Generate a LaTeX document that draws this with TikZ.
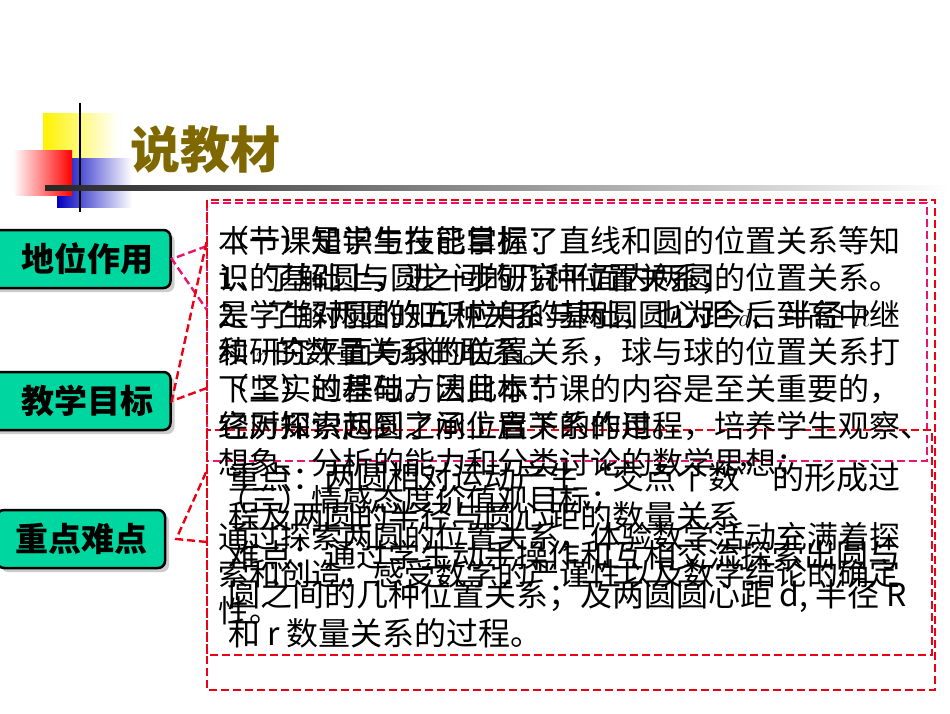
\documentclass[tikz,border=0pt]{standalone}
\usepackage{fontspec}
\setmainfont{Noto Sans CJK SC}
\usetikzlibrary{shadows,fadings}
\definecolor{teal1}{RGB}{0,214,160}
\definecolor{olive1}{RGB}{128,104,0}
\definecolor{pinkd}{RGB}{232,20,110}
\definecolor{redd}{RGB}{235,0,20}
\tikzset{
  tab/.style={draw=black,line width=2.5pt,fill=teal1,rounded corners=7pt,minimum height=58pt,font=\fontsize{33}{36}\selectfont\bfseries,inner sep=0pt,drop shadow={shadow xshift=4pt,shadow yshift=-4pt,opacity=0.4}},
  body/.style={anchor=north west,align=left,inner sep=0pt,font=\fontsize{31}{37}\selectfont},
  dpink/.style={draw=pinkd,line width=2.4pt,dash pattern=on 8pt off 4pt},
  dred/.style={draw=redd,line width=2.4pt,dash pattern=on 8pt off 4pt}
}
\begin{document}
\begin{tikzpicture}[x=1pt,y=1pt]
\useasboundingbox[fill=white] (0,0) rectangle (950,-713);
% logo
\shade[left color=yellow!90!orange,right color=white] (43,-113) rectangle (118,-160);
\shade[left color=blue!75!black,right color=white] (57,-158) rectangle (132,-207);
\shade[right color=red,left color=white] (13,-150) rectangle (72,-195);
\draw[line width=1.5pt] (80,-103) -- (80,-212);
\shade[left color=black!85,right color=white] (45,-185) rectangle (950,-190);
\node[font=\fontsize{50}{54}\selectfont\bfseries,text=olive1,anchor=west,inner sep=0pt] (title) at (130,-150) {说教材};
% tabs
\node[tab,minimum width=185pt,text width=150pt,align=right] (t1) at (78,-259) {地位作用};
\node[tab,minimum width=185pt,text width=150pt,align=right] (t2) at (78,-401) {教学目标};
\node[tab,minimum width=168pt] (t3) at (81,-539) {重点难点};
% boxes
\coordinate (b1nw) at (207,-203); \coordinate (b1se) at (927,-461);
\coordinate (b2nw) at (207,-200); \coordinate (b2se) at (935,-690);
\coordinate (b3nw) at (207,-430); \coordinate (b3se) at (932,-655);
\draw[dpink] (b1nw) rectangle (b1se);
\draw[dred] (b2nw) rectangle (b2se);
\draw[dred] (b3nw) rectangle (b3se);
% callouts
\coordinate (p1a) at (207,-246); \coordinate (p1b) at (207,-310);
\draw[dpink] (p1a) -- (t1.east) -- (p1b);
\coordinate (p2a) at (207,-388); \coordinate (p2b) at (207,-240);
\draw[dred] (p2a) -- (t2.east) -- (p2b);
\coordinate (p3a) at (207,-542); \coordinate (p3b) at (207,-470);
\draw[dred] (p3a) -- ([xshift=10pt]t3.east) -- (p3b);
% texts
\node[body] (ta) at (218,-226) {本节课是学生在已掌握了直线和圆的位置关系等知\\识的基础上，进一步研究平面内两圆的位置关系。\\是学生对圆的知识应用的基础，也为今后到高中继\\续研究平面与球的位置关系，球与球的位置关系打\\下坚实的基础。因此本节课的内容是至关重要的，\\它对知识起到了承上启下的作用。};
\node[body] (tb) at (218,-226) {（一）知识与技能目标：\\1、了解圆与圆之间的几种位置关系；\\2、了解两圆的五种关系与两圆圆心距 {\fontsize{36}{37}\selectfont$d$}、半径 {\fontsize{36}{37}\selectfont$R$}\\和 {\fontsize{36}{37}\selectfont$r$} 的数量关系的联系。\\（二）过程与方法目标：\\经历探索两圆之间位置关系的过程，培养学生观察、\\想象、分析的能力和分类讨论的数学思想；\\（三）情感态度价值观目标：\\通过探索两圆的位置关系，体验数学活动充满着探\\索和创造，感受数学的严谨性以及数学结论的确定\\性。};
\node[body,font=\fontsize{32}{39}\selectfont] (tc) at (228,-462) {重点：两圆相对运动产生“交点个数”的形成过\\程及两圆的半径与圆心距的数量关系\\难点：通过学生动手操作和互相交流探索出圆与\\圆之间的几种位置关系；及两圆圆心距 d, 半径 R\\和 r 数量关系的过程。};
\end{tikzpicture}
\end{document}
